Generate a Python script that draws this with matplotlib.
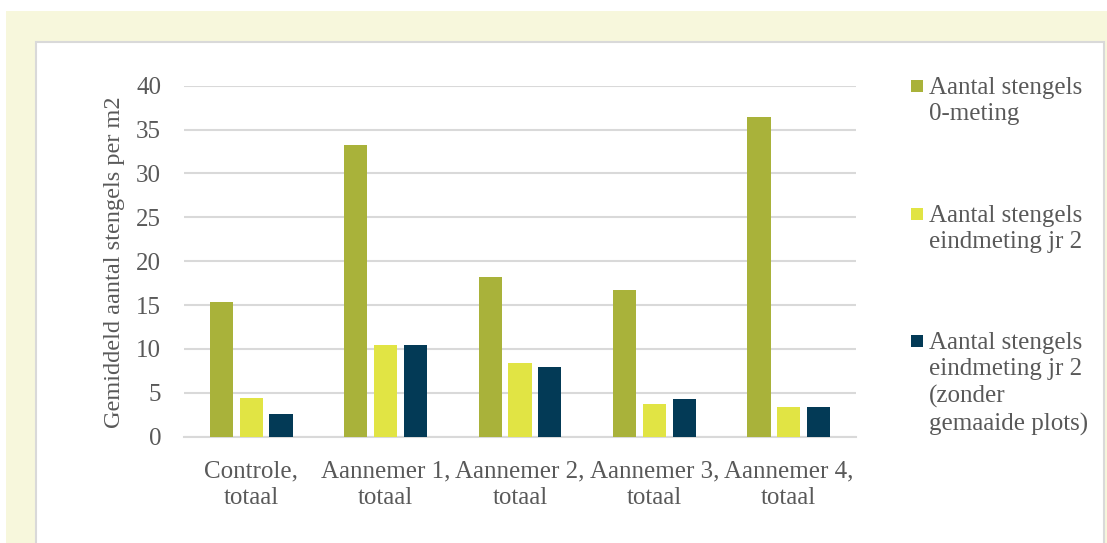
import matplotlib
matplotlib.use("Agg")
import matplotlib.pyplot as plt
from matplotlib.patches import Rectangle
import numpy as np

categories = ["Controle,\ntotaal", "Aannemer 1,\ntotaal", "Aannemer 2,\ntotaal",
              "Aannemer 3,\ntotaal", "Aannemer 4,\ntotaal"]
series_names = ["Aantal stengels\n0-meting",
                "Aantal stengels\neindmeting jr 2",
                "Aantal stengels\neindmeting jr 2\n(zonder\ngemaaide plots)"]
nulmeting = [15.3, 33.2, 18.2, 16.7, 36.4]
eindmeting = [4.4, 10.5, 8.4, 3.7, 3.35]
eindmeting_zonder = [2.6, 10.5, 7.9, 4.3, 3.35]
yticks = [0, 5, 10, 15, 20, 25, 30, 35, 40]

colors = ["#A9B23A", "#E1E444", "#033A56"]
text_color = "#595959"
font = ["Liberation Serif", "DejaVu Serif"]

W, H = 1107, 543
fig = plt.figure(figsize=(W / 100, H / 100), dpi=100)
fig.patch.set_facecolor("white")

# background panels
fig.add_artist(Rectangle((6 / W, 0), (W - 6) / W, (H - 11) / H, transform=fig.transFigure,
                         facecolor="#F7F7DC", edgecolor="none", zorder=-3))
fig.add_artist(Rectangle((36 / W, -0.01), (1104 - 36) / W, (H - 42) / H + 0.01,
                         transform=fig.transFigure, facecolor="white",
                         edgecolor="#D9D9D9", linewidth=1.5, zorder=-2))

ax = fig.add_axes([184 / W, 1 - 436.7 / H, (856 - 184) / W, (436.7 - 85.7) / H])
ax.set_facecolor("none")

x = np.arange(len(categories))
bw = 0.173
step = 0.222
for i, (vals, c) in enumerate(zip([nulmeting, eindmeting, eindmeting_zonder], colors)):
    ax.bar(x + (i - 1) * step, vals, width=bw, color=c, zorder=3)

ax.set_xlim(-0.5, len(categories) - 0.5)
ax.set_ylim(0, 40)
ax.set_yticks(yticks)
ax.set_yticklabels([str(t) for t in yticks], fontsize=18, color=text_color, family=font)
ax.set_xticks(x)
ax.set_xticklabels(categories, fontsize=18, color=text_color, family=font,
                   linespacing=1.3)
ax.tick_params(axis="both", length=0)
ax.tick_params(axis="y", pad=16.5)
ax.tick_params(axis="x", pad=17)
ax.grid(axis="y", color="#D9D9D9", linewidth=1.5, zorder=0)
for s in ["top", "right", "left"]:
    ax.spines[s].set_visible(False)
ax.spines["bottom"].set_color("#D9D9D9")
ax.spines["bottom"].set_linewidth(1.5)

fig.text(115 / W, 1 - 262 / H, "Gemiddeld aantal stengels per m2", rotation=90,
         ha="center", va="center", fontsize=17.5, color=text_color, family=font)

# legend
text_tops = [77, 205, 332]
for name, c, yy in zip(series_names, colors, text_tops):
    fig.add_artist(Rectangle((911 / W, 1 - (yy + 14.5) / H), 12 / W, 12 / H,
                             transform=fig.transFigure, facecolor=c, edgecolor="none"))
    fig.text(929 / W, 1 - yy / H, name, ha="left", va="top", fontsize=18,
             color=text_color, family=font, linespacing=1.26)

fig.savefig("out.png", dpi=100)
